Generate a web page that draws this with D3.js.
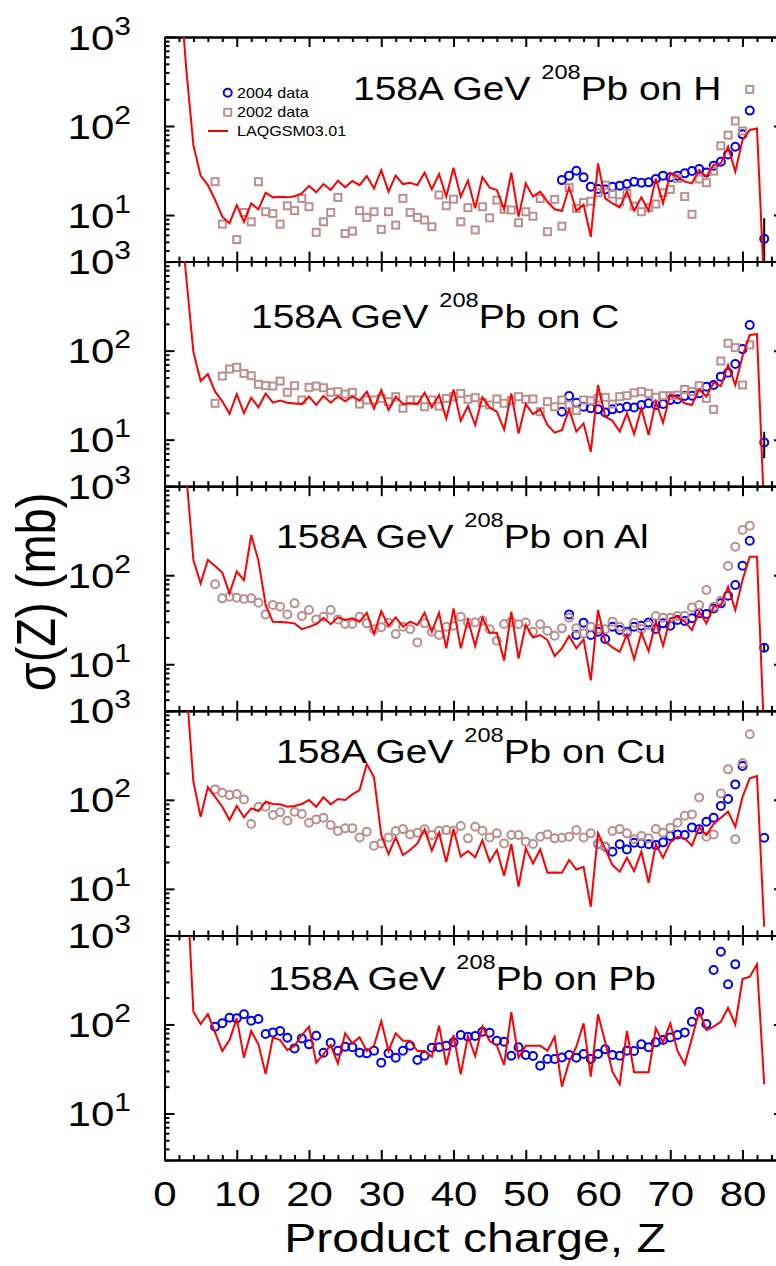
<!DOCTYPE html>
<html>
<head>
<meta charset="utf-8">
<script src="https://cdn.jsdelivr.net/npm/d3@7"></script>
<style>
  body { margin: 0; background: #fff; }
  svg { display: block; }
</style>
</head>
<body>
<div id="chart-area"></div>
<script>
const WIDTH = 776, HEIGHT = 1266
const PLOT = { LEFT: 164.5, RIGHT: 784, TOP: 37, PANEL: 224.6 }
const FONT = "'Liberation Sans', Arial, Helvetica, sans-serif"
const STRETCH = 1.2
const R = 4, SQ = 7

// axis ticks
const xMajor = [0, 10, 20, 30, 40, 50, 60, 70, 80]
const xMinor = d3.range(0, 86, 2).filter(d => d % 10)
const yMajor = [10, 100, 1000]
const yMinor = [3, 4, 5, 6, 7, 8, 9, 20, 30, 40, 50, 60, 70, 80, 90, 200, 300, 400, 500, 600, 700, 800, 900]
const yLabels = [[1000, "3"], [100, "2"], [10, "1"]]

// ---- 158A GeV Pb on H ----  (first value belongs to the start Z, one value per Z, null = no point)
const hLineStart = 2
const hLine = [5000, 450, 61, 27.7, 21.7, 14.8, 9.6, 8.1, 12.9, 8.4, 13.5, 11.6, 17.8, 15.8, 16.1, 15.8, 16.3, 17.5, 21.3, 18.0,
  22.3, 19.1, 24.3, 20.5, 24.1, 21.7, 27.4, 19.9, 32.0, 18.3, 27.7, 22.3, 23.1, 21.7, 29.9, 19.4, 28.9, 16.1, 34.0, 16.1,
  24.5, 11.9, 26.7, 20.3, 19.1, 11.6, 29.9, 9.6, 22.7, 16.1, 18.3, 14.1, 11.6, 11.1, 20.5, 11.2, 13.1, 5.7, 38.1, 15.4,
  13.5, 12.2, 18.3, 11.2, 15.8, 11.2, 25.8, 13.5, 29.4, 27.0, 23.7, 22.7, 32.0, 27.0, 36.5, 38.1, 58.6, 30.7, 69.6, 90.2,
  94, 1.5]
const h2002Start = 7
const h2002 = [23.7, 7.9, null, 5.3, 10.7, 8.4, 23.7, 10.9, 10.4, 7.9, 12.7, 11.2, 15.4, 12.4, 6.4, 8.4, 10.7, 15.8, 6.2, 6.6,
  11.2, 9.4, 10.9, 6.9, 10.9, 7.7, 15.4, 10.7, 9.4, 8.8, 7.4, 16.8, 12.7, 15.1, 8.4, 12.1, 6.8, 12.4, 9.3, 14.7,
  11.6, 11.4, 8.2, 10.9, 9.7, 15.3, 6.5, 15.0, 7.5, 20.3, 11.9, 13.8, 14.3, 17.8, 21.7, 17.2, 14.1, 17.5, 12.6, 10.9,
  12.1, 13.3, 17.8, 19.4, 25.8, 16.1, 10.2, 25.4, 23.1, 31.2, 60, 79, 114, 88, 258]
const h2004Start = 55
const h2004 = [24.7, 27.7, 31.5, 26.5, 20.8, 19.6, 19.4, 20.8, 21.4, 22.3, 23.7, 23.1, 23.3, 25.4, 27.7, 26.5, 27.7, 29.4, 31.2, 32.9,
  30.1, 35.8, 39.7, 48, 58.6, 80.6, 149, null, 5.4]
const hErr = [[83, 2, 9.2]]

// ---- on C ----
const cLineStart = 2
const cLine = [5000, 680, 97, 45.6, 54.6, 34.6, 27, 19.5, 32.5, 19.8, 29.6, 23.1, 33, 26, 27.5, 26, 25.5, 25, 30.5, 24.5,
  31, 26, 30.5, 27, 30.5, 27.5, 34.6, 22.3, 36, 21.5, 30.4, 25.1, 25.6, 25.1, 33.6, 23.0, 31.7, 17.3, 36.7, 16.3,
  23.9, 14.6, 29.9, 23.0, 20.6, 13.0, 33.1, 11.7, 25.1, 19.4, 21.9, 14.6, 12.0, 12.8, 21.9, 12.3, 15.2, 7.3, 41.1, 18.1,
  16.3, 12.3, 19.7, 11.6, 22.5, 11.3, 26.7, 15.5, 32.3, 29.9, 25.6, 24.5, 36.7, 30.4, 43.7, 40.0, 68.9, 41.1, 87, 150,
  153, 1.5]
const c2002Start = 7
const c2002 = [25.6, 51.8, 62.1, 64.9, 55.5, 52.3, 41.8, 40.4, 40.0, 45.5, 34, 40.4, 27.9, 38.7, 40.0, 38.3, 34, 34.6, 32.5, 34,
  25.1, 27.9, 27.9, 29.1, 26.7, 30.4, 22.5, 27.9, 27.9, 23.4, 27.9, 23.8, 29.1, 30.4, 33.1, 28.4, 29.6, 26.0, 24.5, 28.6,
  25.6, 27.4, 30.4, 28.4, 28.6, 20.6, 26.7, 23.4, 27.9, 24.5, 21.2, 27.9, 27.4, 29.1, 29.9, 25.1, 30.4, 31.2, 33.6, 34.6,
  33.1, 29.9, 31.2, 31.2, 31.7, 36.7, 34.6, 40.4, 29.1, 21.9, 76.4, 121, 108, 41.1, 116]
const c2004Start = 55
const c2004 = [20.6, 30.9, 26.0, 23.4, 22.5, 21.9, 20.2, 21.9, 22.5, 23.4, 23.0, 24.5, 25.6, 24.5, 25.1, 27.9, 28.4, 30.9, 31.2, 33.1,
  39.3, 41.1, 51, 56.5, 70.7, 104, 194, null, 9.3]
const cErr = [[83, 6.2, 12.3]]

// ---- on Al ----
const alLineStart = 3
const alLine = [1400, 148, 81, 148, 127, 107, 62.6, 110, 88, 283, 146, 46.3, 30, 29.8, 29.5, 28.8, 24.8, 26.3, 28.2, 33.3,
  28.2, 33.6, 31.4, 32.8, 30, 37.9, 21.8, 39.4, 26.9, 33.6, 26.4, 30.1, 27.6, 37.9, 23.2, 37.9, 15.1, 42.4, 15.1, 31.4,
  16.1, 33.3, 22.6, 22.6, 11.0, 38.9, 11.6, 27.6, 20.0, 21.3, 18.7, 12.4, 15.1, 20.8, 15.1, 19.0, 6.6, 40.6, 17.9, 15.5,
  13.8, 21.6, 11.4, 22.6, 14.0, 30.1, 16.1, 32.8, 34.2, 30.1, 24.2, 38.9, 28.8, 44.3, 46.3, 74.3, 40.6, 88.3, 161, 161,
  1.5]
const al2002Start = 7
const al2002 = [79, 55, 57.4, 56, 54, 55, 49.1, 36.3, 46.3, 44.3, 36.3, 48.3, 34.8, 40.6, 31.9, 34.2, 40.6, 31.9, 28.3, 28.3,
  34.2, 28.8, 24.8, 26, 29.3, 21.8, 26.4, 24.7, 17.6, 28.8, 23.2, 21.3, 26.4, 27.1, 34.2, 29.3, 29.5, 30.8, 24.7, 18.4,
  28.3, 30.1, 28.1, 29.5, 23.2, 28.1, 23.8, 20.9, 25.3, 33.3, 25.3, 22.2, 26.4, 24.9, 24.7, 30.1, 26.4, 22.2, 29.3, 24.9,
  27.6, 34.8, 33.3, 33.3, 34.8, 35.1, 43.5, 46.3, 68.2, 44.3, 51.8, 127, 209, 322, 360]
const al2004Start = 56
const al2004 = [36.3, 21.3, 29.3, 21.3, 23.2, 19.2, 26.4, 24.2, 23.2, 26.4, 27.1, 29.5, 24.9, 28.8, 27.1, 31.4, 30.6, 32.8, 37.3, 36.6,
  42.4, 48.3, 58.9, 77.6, 128, 244, null, 15.3]
const alErr = [[83, 13.8, 17]]

// ---- on Cu ----
const cuLineStart = 3
const cuLine = [2000, 160, 64.6, 138, 108, 83.7, 59.3, 85.2, 63.5, 80.2, 74.8, 95.2, 89.7, 89, 83.7, 85.2, 89.7, 99.5, 83.7, 106.6,
  89, 102, 99.5, 115, 129, 252, 179, 40.2, 24.6, 37.8, 24, 27.3, 32.4, 46.6, 26.8, 42.7, 20, 47, 23, 26.6,
  22.6, 35, 20.2, 27.3, 14.0, 31.9, 10.6, 28.5, 19.3, 27.7, 15.2, 15.3, 15.2, 21.1, 16.5, 17.7, 6.3, 42, 28, 18.5,
  15.6, 22.4, 15.8, 26.1, 11.7, 31.9, 22.4, 33.3, 38.5, 36.9, 30.5, 49, 40.2, 53.5, 62.9, 73.6, 49.9, 108, 174, 185,
  3.75]
const cu2002Start = 7
const cu2002 = [131, 120, 113, 116, 101, 53.5, 83.7, 83.7, 67.5, 72.3, 58.3, 73.6, 69.2, 55.3, 60.3, 62.9, 52.1, 44.6, 47.8, 47.8,
  37.8, 43.8, 30.5, 32.4, 37.8, 44.6, 46.9, 40.9, 42.7, 46.6, 40.2, 45, 45.7, 45, 50.7, 36.9, 49.9, 45, 37.8, 42,
  32.4, 40.2, 40.2, 33.9, 31.9, 38.5, 40.9, 36.9, 37.5, 38.5, 45.7, 37.8, 42, 31.9, 29.7, 44.6, 46.9, 42, 36, 39.2,
  36.9, 46.9, 42.7, 48.7, 55.3, 66.3, 68.6, 106, 38.5, 40.9, 118, 220, 36, 257, 544]
const cu2004Start = 60
const cu2004 = [31.9, 29.7, 26.1, 31.7, 27.7, 33, 32.4, 31.7, 31, 33.3, 39.2, 40.9, 40.2, 49, 46.6, 56.8, 62.9, 85.2, 102, 149,
  240, null, null, 37.5]
const cuErr = []

// ---- on Pb ----
const pbLineStart = 3
const pbLine = [5400, 139, 101, 131, 81.4, 50.3, 66.8, 117, 42.3, 84.3, 59.7, 27.7, 71.6, 66.8, 51.5, 57.7, 76, 94.3, 37.2, 46.5,
  58.7, 36.5, 79.4, 61.3, 71.5, 50.3, 57.7, 109, 50.3, 79.4, 65.7, 65.7, 50.3, 50.3, 43.4, 96.8, 35, 76, 27.5, 74.1,
  44.2, 95, 65.1, 57.7, 35, 137, 42.3, 57.7, 57.7, 57.7, 50.7, 72.8, 20, 38.1, 56.2, 103, 25.9, 130, 62.9, 29.5,
  21.2, 84.3, 29, 29, 29, 90.3, 62.9, 103, 50.3, 35.6, 69.7, 141, 86.4, 94.3, 107, 154, 99.9, 324, 344, 473,
  21.2]
const pb2004Start = 7
const pb2004 = [94.3, 103, 119, 117, 130, 110, 115, 78, 81.4, 84.3, 70.9, 53.8, 69.7, 59.7, 74.7, 48.1, 62.4, 50.7, 56.2, 55.3,
  48.1, 47.3, 50.7, 37.2, 47.3, 42.3, 50.7, 57.7, 39.8, 44.5, 54.8, 55.3, 57.7, 62.9, 76, 72.8, 74.1, 82.8, 80.7, 65.7,
  64, 44.5, 55.3, 45.3, 44.2, 34.4, 40.9, 40.9, 42.6, 45.3, 42.3, 46.5, 40.9, 46.5, 52.5, 45.3, 44.5, 50.7, 50.3, 59.7,
  55.3, 62.9, 66.8, 71.5, 76, 81.4, 107, 139, 101, 408, 656, 282, 473]

const toPoints = (start, vals) => vals.map((v, i) => ({ z: start + i, v })).filter(d => d.v != null)

const panels = [
  { target: "H",  line: toPoints(hLineStart, hLine),   d02: toPoints(h2002Start, h2002),   d04: toPoints(h2004Start, h2004),   mark02: "square", err: hErr,  tx: 353, ty: 63 },
  { target: "C",  line: toPoints(cLineStart, cLine),   d02: toPoints(c2002Start, c2002),   d04: toPoints(c2004Start, c2004),   mark02: "square", err: cErr,  tx: 251, ty: 66 },
  { target: "Al", line: toPoints(alLineStart, alLine), d02: toPoints(al2002Start, al2002), d04: toPoints(al2004Start, al2004), mark02: "circle", err: alErr, tx: 276, ty: 62 },
  { target: "Cu", line: toPoints(cuLineStart, cuLine), d02: toPoints(cu2002Start, cu2002), d04: toPoints(cu2004Start, cu2004), mark02: "circle", err: cuErr, tx: 276, ty: 52 },
  { target: "Pb", line: toPoints(pbLineStart, pbLine), d02: [],                            d04: toPoints(pb2004Start, pb2004), mark02: "circle", err: [],    tx: 268, ty: 55 },
]

const BLUE = "#0000ff", BROWN = "#bc8f8f", RED = "#ff0000"

const svg = d3.select("#chart-area").append("svg")
  .attr("width", WIDTH)
  .attr("height", HEIGHT)
  .attr("viewBox", [0, 0, WIDTH, HEIGHT])
  .attr("font-family", FONT)

const x = d3.scaleLinear().domain([0, 85.74]).range([PLOT.LEFT, PLOT.RIGHT])

function styleAxis(g) {
  g.attr("font-family", FONT)
  g.select(".domain").attr("stroke-width", 2)
  g.selectAll(".tick line").attr("stroke-width", 2)
}

panels.forEach((p, i) => {
  const top = PLOT.TOP + i * PLOT.PANEL
  const bot = top + PLOT.PANEL
  const y = d3.scaleLog().domain([3, 1000]).range([bot, top])
  const g = svg.append("g")

  svg.append("clipPath").attr("id", "clip" + i)
    .append("rect").attr("x", PLOT.LEFT).attr("y", top).attr("width", PLOT.RIGHT - PLOT.LEFT).attr("height", PLOT.PANEL)

  // axes, ticks pointing inward on all four sides
  const isLast = i === panels.length - 1
  g.append("g").attr("transform", `translate(0,${bot})`)
    .call(d3.axisBottom(x).tickValues(xMinor).tickSize(-5).tickSizeOuter(0).tickFormat("")).call(styleAxis)
  const bx = g.append("g").attr("transform", `translate(0,${bot})`)
    .call(d3.axisBottom(x).tickValues(xMajor).tickSize(-10).tickSizeOuter(0).tickFormat(isLast ? d3.format("d") : ""))
    .call(styleAxis)
  bx.selectAll(".tick text")
    .attr("font-size", 35).attr("fill", "#000")
    .attr("y", 46.5).attr("dy", 0)
    .attr("transform", `scale(${STRETCH},1)`)
  g.append("g").attr("transform", `translate(0,${top})`)
    .call(d3.axisTop(x).tickValues(xMinor).tickSize(-5).tickSizeOuter(0).tickFormat("")).call(styleAxis)
  g.append("g").attr("transform", `translate(0,${top})`)
    .call(d3.axisTop(x).tickValues(xMajor).tickSize(-10).tickSizeOuter(0).tickFormat("")).call(styleAxis)
  g.append("g").attr("transform", `translate(${PLOT.LEFT},0)`)
    .call(d3.axisLeft(y).tickValues(yMinor).tickSize(-5).tickSizeOuter(0).tickFormat("")).call(styleAxis)
  g.append("g").attr("transform", `translate(${PLOT.LEFT},0)`)
    .call(d3.axisLeft(y).tickValues(yMajor).tickSize(-10).tickSizeOuter(0).tickFormat("")).call(styleAxis)
  g.append("g").attr("transform", `translate(${PLOT.RIGHT},0)`)
    .call(d3.axisRight(y).tickValues(yMinor).tickSize(-5).tickSizeOuter(0).tickFormat("")).call(styleAxis)
  g.append("g").attr("transform", `translate(${PLOT.RIGHT},0)`)
    .call(d3.axisRight(y).tickValues(yMajor).tickSize(-10).tickSizeOuter(0).tickFormat("")).call(styleAxis)

  // y tick labels 10^n
  yLabels.forEach(([v, e]) => {
    const t = g.append("g")
      .attr("transform", `translate(131,${y(v) + 12.5}) scale(${STRETCH},1)`)
      .append("text").attr("text-anchor", "end").attr("font-size", 35)
    t.append("tspan").text("10")
    t.append("tspan").attr("font-size", 25).attr("dy", -15).text(e)
  })

  // panel title
  const tt = g.append("g")
    .attr("transform", `translate(${p.tx},${top + p.ty}) scale(1.18,1)`)
    .append("text").attr("font-size", 33)
  tt.append("tspan").text("158A GeV\u00a0")
  tt.append("tspan").attr("font-size", 20).attr("dy", -21).text("208")
  tt.append("tspan").attr("dy", 21).text("Pb on " + p.target)

  const plot = g.append("g").attr("clip-path", `url(#clip${i})`)

  // error bars
  plot.selectAll(".err").data(p.err).join("line")
    .attr("x1", d => x(d[0])).attr("x2", d => x(d[0]))
    .attr("y1", d => y(d[1])).attr("y2", d => y(d[2]))
    .attr("stroke", "#000").attr("stroke-width", 2)

  // 2004 data
  plot.selectAll(".d04").data(p.d04).join("circle")
    .attr("cx", d => x(d.z)).attr("cy", d => y(d.v)).attr("r", R)
    .attr("fill", "none").attr("stroke", BLUE).attr("stroke-width", 2)

  // 2002 data
  if (p.mark02 === "square") {
    plot.selectAll(".d02").data(p.d02).join("rect")
      .attr("x", d => x(d.z) - SQ / 2).attr("y", d => y(d.v) - SQ / 2)
      .attr("width", SQ).attr("height", SQ)
      .attr("fill", "none").attr("stroke", BROWN).attr("stroke-width", 2)
  } else {
    plot.selectAll(".d02").data(p.d02).join("circle")
      .attr("cx", d => x(d.z)).attr("cy", d => y(d.v)).attr("r", R)
      .attr("fill", "none").attr("stroke", BROWN).attr("stroke-width", 2)
  }

  // LAQGSM03.01
  plot.append("path").datum(p.line)
    .attr("fill", "none").attr("stroke", RED).attr("stroke-width", 2)
    .attr("d", d3.line().x(d => x(d.z)).y(d => y(d.v)))
})

// legend (first panel)
const lg = svg.append("g")
lg.append("circle").attr("cx", 227.7).attr("cy", 92.7).attr("r", R)
  .attr("fill", "none").attr("stroke", BLUE).attr("stroke-width", 2)
lg.append("rect").attr("x", 227.7 - SQ / 2).attr("y", 112.3 - SQ / 2).attr("width", SQ).attr("height", SQ)
  .attr("fill", "none").attr("stroke", BROWN).attr("stroke-width", 2)
lg.append("line").attr("x1", 208).attr("x2", 228).attr("y1", 131).attr("y2", 131)
  .attr("stroke", RED).attr("stroke-width", 2)
const legendItems = ["2004 data", "2002 data", "LAQGSM03.01"]
legendItems.forEach((s, k) => {
  lg.append("g").attr("transform", `translate(237,${97.7 + k * 19}) scale(1.15,1)`)
    .append("text").attr("font-size", 14).text(s)
})

// axis titles
svg.append("g").attr("transform", `translate(475,1252) scale(${STRETCH},1)`)
  .append("text").attr("text-anchor", "middle").attr("font-size", 40)
  .text("Product charge, Z")
svg.append("g").attr("transform", `translate(55,592) rotate(-90) scale(1,${STRETCH})`)
  .append("text").attr("text-anchor", "middle").attr("font-size", 47)
  .text("σ(Z) (mb)")
</script>
</body>
</html>
